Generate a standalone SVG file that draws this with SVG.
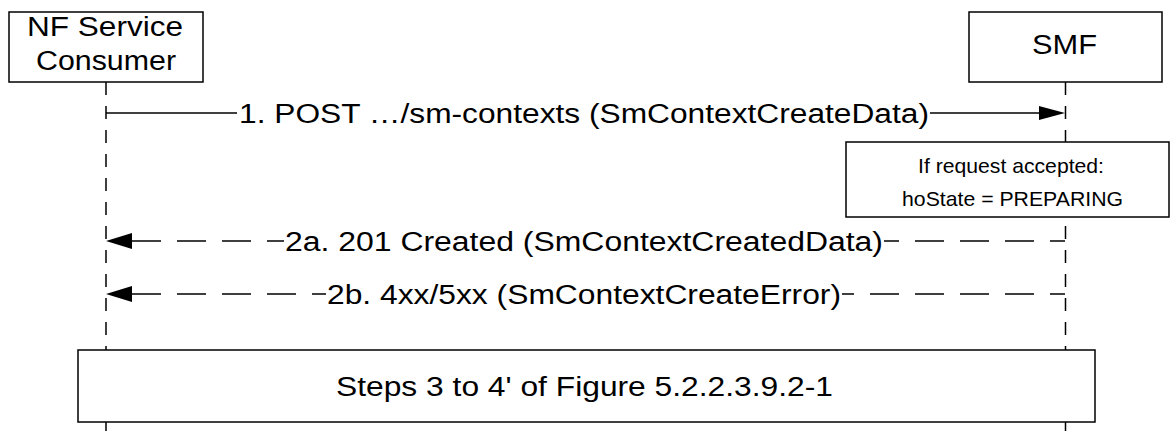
<svg xmlns="http://www.w3.org/2000/svg" width="1173" height="439" viewBox="0 0 1173 439">
<style>
.box{fill:#fff;stroke:#000;stroke-width:1.5}
.life{stroke:#000;stroke-width:1.5;stroke-dasharray:13 11;fill:none}
.msg{stroke:#000;stroke-width:1.5;fill:none}
.dash{stroke:#000;stroke-width:1.5;fill:none;stroke-dasharray:29 16}
.dashr{stroke:#000;stroke-width:1.5;fill:none;stroke-dasharray:29 16;stroke-dashoffset:14}
.t{font-family:"Liberation Sans",Arial,sans-serif;font-size:27px;fill:#000}
.n{font-family:"Liberation Sans",Arial,sans-serif;font-size:21px;fill:#000}
.head{fill:#000}
</style>
<g id="lifelines">
<line class="life" x1="106" y1="82" x2="106" y2="439"/>
<line class="life" x1="1065.5" y1="82" x2="1065.5" y2="439"/>
</g>
<g id="consumer">
<rect class="box" x="9" y="12" width="194" height="70"/>
<text class="t" x="27" y="36" textLength="156" lengthAdjust="spacingAndGlyphs">NF Service</text>
<text class="t" x="36" y="70" textLength="140" lengthAdjust="spacingAndGlyphs">Consumer</text>
</g>
<g id="smf">
<rect class="box" x="969" y="12" width="193" height="70"/>
<text class="t" x="1032" y="54" textLength="65" lengthAdjust="spacingAndGlyphs">SMF</text>
</g>
<g id="connectors">
<line class="msg" x1="106" y1="113" x2="237" y2="113"/>
<line class="msg" x1="930" y1="113" x2="1041" y2="113"/>
<polygon class="head" points="1065,113 1039,106 1039,120"/>
<text class="t" x="239" y="122.5" textLength="690" lengthAdjust="spacingAndGlyphs">1. POST …/sm-contexts (SmContextCreateData)</text>
<polygon class="head" points="106,241 132,233 132,249"/>
<path class="dash" d="M132 241 H284"/>
<path class="dashr" d="M1065 241 H884"/>
<text class="t" x="285" y="250.5" textLength="598" lengthAdjust="spacingAndGlyphs">2a. 201 Created (SmContextCreatedData)</text>
<polygon class="head" points="106,294 132,286 132,302"/>
<path class="dash" d="M132 294 H326"/>
<path class="dashr" d="M1065 294 H842"/>
<text class="t" x="327" y="303.5" textLength="514" lengthAdjust="spacingAndGlyphs">2b. 4xx/5xx (SmContextCreateError)</text>
</g>
<g id="note">
<rect class="box" x="846" y="142" width="323" height="75"/>
<text class="n" x="918" y="173" textLength="186" lengthAdjust="spacingAndGlyphs">If request accepted:</text>
<text class="n" x="902" y="206" textLength="221" lengthAdjust="spacingAndGlyphs">hoState = PREPARING</text>
</g>
<g id="steps">
<rect class="box" x="78" y="350" width="1017" height="72"/>
<text class="t" x="336" y="396" textLength="497" lengthAdjust="spacingAndGlyphs">Steps 3 to 4' of Figure 5.2.2.3.9.2-1</text>
</g>
</svg>
